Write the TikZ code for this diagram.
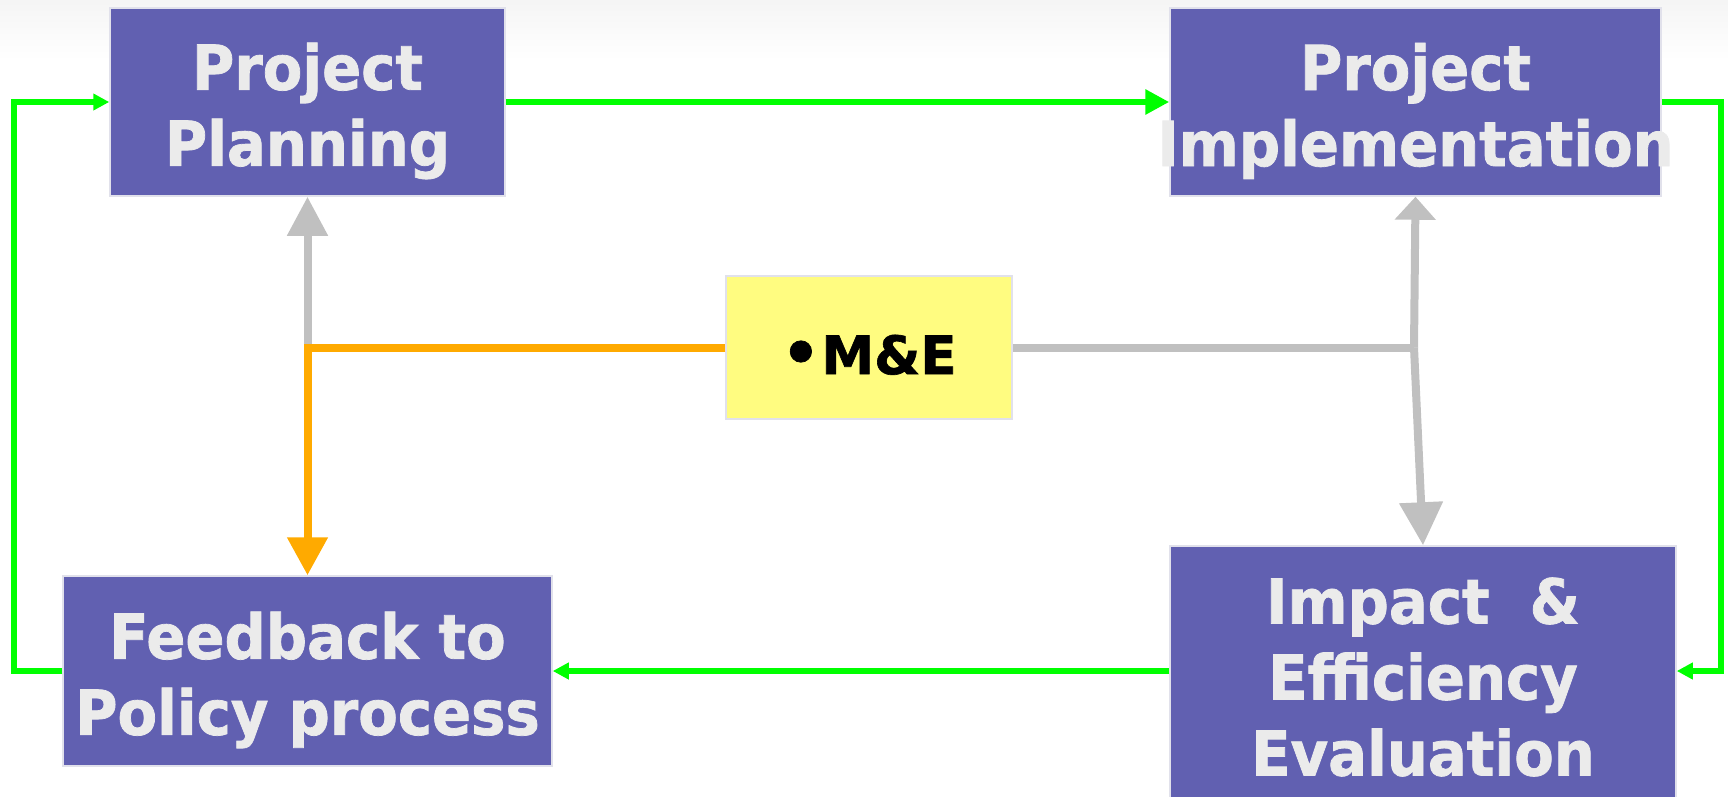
\documentclass[tikz,border=0pt]{standalone}
\usepackage{fontspec}
\setmainfont{DejaVu Sans}[FakeStretch=0.93, BoldFeatures={FakeBold=1.2}]
\newfontfamily\mefont{DejaVu Sans}[BoldFeatures={FakeBold=1.2}]
\usetikzlibrary{arrows.meta,calc}
\definecolor{boxblue}{RGB}{97,96,177}
\definecolor{boxtext}{RGB}{235,235,235}
\definecolor{boxedge}{RGB}{225,225,235}
\definecolor{meyellow}{RGB}{255,252,128}
\definecolor{lgreen}{RGB}{0,255,0}
\definecolor{lorange}{RGB}{255,170,0}
\definecolor{lgray}{RGB}{192,192,192}
\newcommand\tshift{\rule{0pt}{65pt}}
\tikzset{
  bluebox/.style={draw=boxedge, line width=1.5pt, fill=boxblue, text=boxtext,
    font=\bfseries\fontsize{62}{76}\selectfont, align=center, inner sep=0pt},
  mebox/.style={draw=boxedge, line width=1.5pt, fill=meyellow, text=black,
    font=\mefont\bfseries\fontsize{53}{60}\selectfont, inner sep=0pt,
    minimum width=286pt, minimum height=143pt},
  greenline/.style={draw=lgreen, line width=6pt,
    -{Triangle[length=16pt,width=16pt]}},
  grayline/.style={draw=lgray, line width=8pt},
  orangeline/.style={draw=lorange, line width=8pt},
}
\begin{document}
\begin{tikzpicture}[x=1pt,y=-1pt]
\useasboundingbox (0,0) rectangle (1728,796);
\shade[top color=gray!8, bottom color=white] (0,0) rectangle (1728,60);
\node[bluebox, minimum width=395pt, minimum height=188pt] (plan) at (307.5,102) {\tshift Project\\Planning};
\node[bluebox, minimum width=491pt, minimum height=188pt] (impl) at (1415.5,102) {\tshift Project\\\makebox[0pt]{Implementation}};
\node[mebox] (me) at (869,347.5) {\rule{0pt}{54pt}\scalebox{1.15}{•}\kern0.02em M\&E};
\node[bluebox, minimum width=489pt, minimum height=190pt] (feed) at (307.5,671) {\tshift Feedback to\\Policy process};
\node[bluebox, minimum width=506pt, minimum height=262pt] (imp) at (1423,677) {Impact \ \&\\Efficiency\\Evaluation};
\coordinate (lc) at (14,102);
\coordinate (rc) at (1721,102);
\coordinate (jl) at (plan.south |- me.west);
\coordinate (jr) at (1414,347.5);
% green loop
\draw[greenline, -{Triangle[length=24pt,width=24pt]}] (plan.east) -- (impl.west);
\draw[greenline] (impl.east) -- (rc) |- (imp.east |- feed.east);
\draw[greenline] (imp.west |- feed.east) -- (feed.east);
\draw[greenline] (feed.west) -| (lc) -- (plan.west);
% gray M&E links
\draw[grayline, -{Triangle[length=39pt,width=39pt]}] (jl) -- (plan.south);
\draw[grayline, line cap=butt] (me.east) -- (jr);
\draw[grayline, -{Triangle[length=23pt,width=40pt]}] (jr) -- (impl.south);
\draw[grayline, -{Triangle[length=43pt,width=42pt]}] (jr) -- (imp.north);
% orange link
\draw[orangeline, -{Triangle[length=38pt,width=39pt]}] (me.west) -- (jl) -- (feed.north);
\end{tikzpicture}
\end{document}
